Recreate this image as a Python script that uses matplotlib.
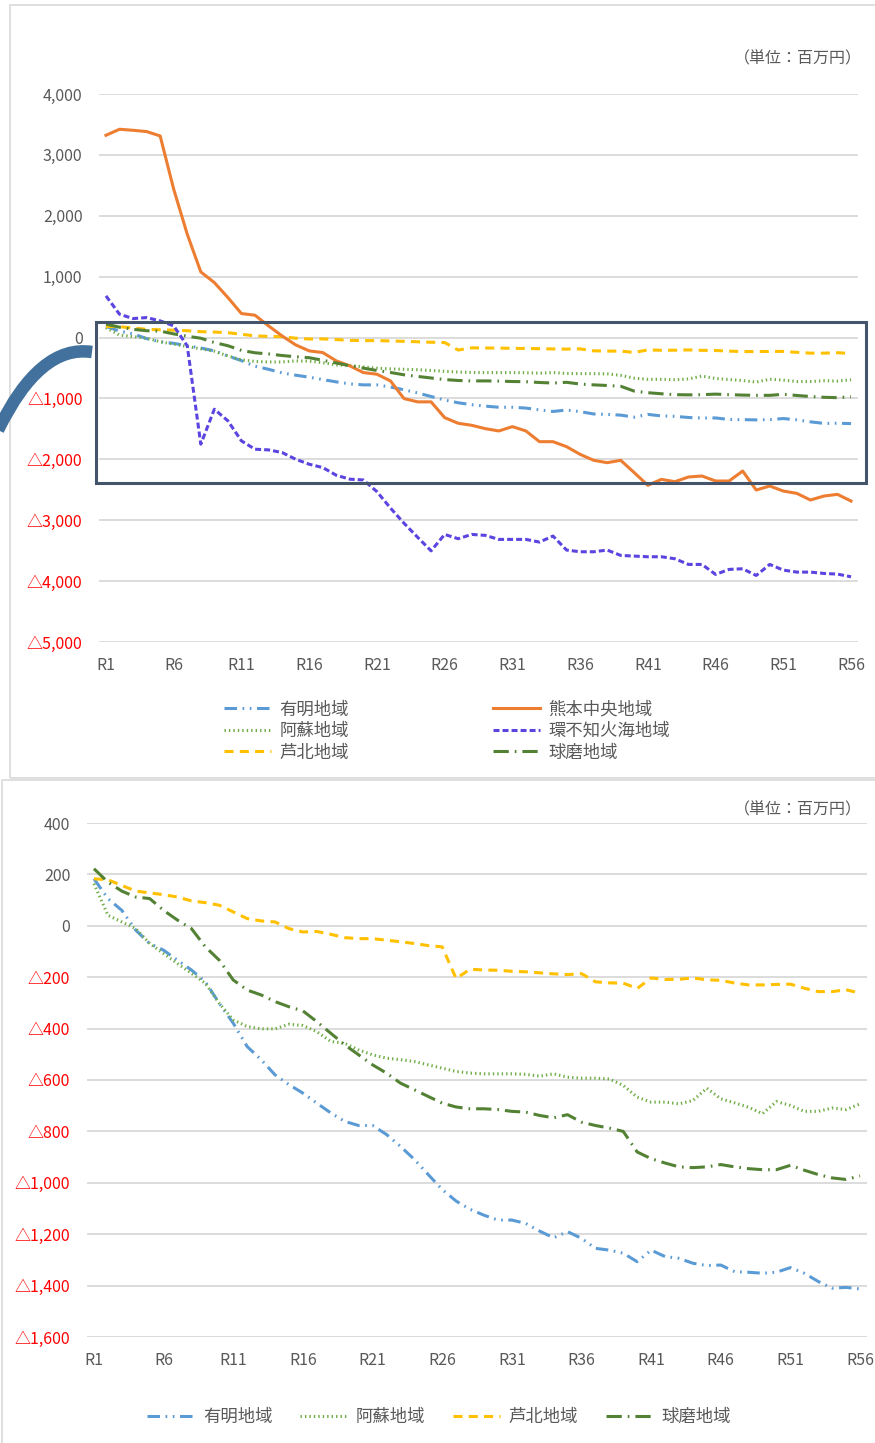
import matplotlib
matplotlib.use('Agg')
import matplotlib.pyplot as plt
from matplotlib.patches import Rectangle, PathPatch
from matplotlib.path import Path

plt.rcParams['font.family'] = ['Noto Sans CJK JP', 'DejaVu Sans']
plt.rcParams['lines.scale_dashes'] = False

# data (単位：百万円), R1..R56
years = list(range(1, 57))

ariake = [183, 106, 60, -17, -69, -95, -134, -172, -218, -302,
          -379, -470, -521, -580, -618, -651, -690, -728, -761, -777,
          -777, -812, -858, -909, -968, -1026, -1071, -1103, -1126, -1145,
          -1145, -1158, -1188, -1214, -1190, -1216, -1255, -1262, -1274, -1307,
          -1262, -1287, -1294, -1313, -1322, -1320, -1346, -1348, -1352, -1348,
          -1330, -1352, -1384, -1410, -1407, -1413]

aso = [164, 41, 15, -11, -69, -108, -147, -185, -224, -302,
       -366, -392, -401, -401, -383, -388, -412, -450, -457, -483,
       -502, -515, -521, -528, -541, -554, -567, -573, -576, -576,
       -576, -578, -585, -576, -589, -593, -593, -596, -621, -667,
       -686, -686, -693, -680, -632, -673, -689, -706, -731, -684,
       -699, -722, -722, -709, -715, -693]

ashikita = [183, 179, 157, 135, 128, 121, 112, 97, 90, 80,
            54, 28, 19, 15, -11, -24, -22, -33, -46, -50,
            -50, -56, -62, -69, -77, -82, -205, -169, -172, -173,
            -177, -179, -183, -187, -190, -186, -218, -222, -223, -244,
            -203, -209, -208, -203, -210, -212, -223, -230, -230, -228,
            -227, -243, -256, -256, -249, -262]

kuma = [222, 170, 135, 112, 106, 60, 22, -11, -82, -134,
        -211, -250, -269, -295, -315, -331, -373, -418, -463, -502,
        -541, -573, -612, -638, -664, -690, -705, -712, -712, -715,
        -722, -725, -738, -747, -735, -764, -777, -787, -800, -880,
        -906, -923, -938, -941, -938, -929, -938, -945, -949, -949,
        -932, -951, -968, -981, -987, -973]

kumamoto = [3322, 3421, 3404, 3383, 3311, 2436, 1697, 1078, 903, 657,
            394, 367, 192, 27, -120, -219, -246, -383, -465, -575,
            -602, -712, -1002, -1056, -1056, -1315, -1408, -1441, -1496, -1534,
            -1463, -1534, -1710, -1710, -1792, -1918, -2016, -2055, -2016, -2219,
            -2427, -2329, -2367, -2290, -2274, -2356, -2356, -2192, -2504, -2438,
            -2521, -2559, -2668, -2603, -2575, -2685]

shiranui = [684, 383, 312, 328, 274, 192, -137, -1751, -1177, -1368,
            -1697, -1834, -1845, -1888, -1998, -2080, -2135, -2261, -2326, -2339,
            -2530, -2800, -3049, -3279, -3503, -3233, -3304, -3233, -3249, -3315,
            -3315, -3315, -3359, -3260, -3490, -3518, -3518, -3490, -3578, -3589,
            -3600, -3600, -3633, -3726, -3726, -3890, -3808, -3797, -3907, -3726,
            -3819, -3852, -3852, -3874, -3885, -3929]

names = ['有明地域', '阿蘇地域', '芦北地域', '熊本中央地域', '環不知火海地域', '球磨地域']
xtick_years = [1, 6, 11, 16, 21, 26, 31, 36, 41, 46, 51, 56]
top_ticks = [4000, 3000, 2000, 1000, 0, -1000, -2000, -3000, -4000, -5000]
bottom_ticks = [400, 200, 0, -200, -400, -600, -800, -1000, -1200, -1400, -1600]

W, H = 875, 1443
GRAY = '#595959'

# colour, dash pattern (points), cap style
styles = {
    '有明地域': ('#5B9BD5', (9, 4, 1.2, 4, 1.2, 4), 'butt'),
    '阿蘇地域': ('#70AD47', (1.0, 2.2), 'butt'),
    '芦北地域': ('#FFC000', (6.5, 4.5), 'butt'),
    '熊本中央地域': ('#ED7D31', None, 'butt'),
    '環不知火海地域': ('#5B45E0', (4.3, 2.2), 'butt'),
    '球磨地域': ('#548235', (11, 4.3, 1.2, 4.3), 'butt'),
}


def fx(x):
    return x / W


def fy(y):
    return 1 - y / H


def tick_text(v):
    if v < 0:
        return '△{:,}'.format(-v)
    return '{:,}'.format(v)


def draw(ax, series, yticks):
    for name, vals in series:
        color, dashes, cap = styles[name]
        if dashes is None:
            ax.plot(years, vals, color=color, lw=2.2, label=name)
        else:
            ax.plot(years, vals, color=color, lw=2.2, dashes=dashes,
                    dash_capstyle=cap, label=name)
    ax.set_xlim(0.5, 56.5)
    ax.set_ylim(yticks[-1], yticks[0])
    ax.set_yticks(yticks)
    ax.set_yticklabels([tick_text(v) for v in yticks])
    for lab, v in zip(ax.get_yticklabels(), yticks):
        lab.set_color('#FF0000' if v < 0 else GRAY)
    ax.set_xticks(xtick_years)
    ax.set_xticklabels(['R%d' % y for y in xtick_years], color=GRAY)
    ax.tick_params(length=0, labelsize=11.5)
    ax.tick_params(axis='y', pad=12)
    ax.tick_params(axis='x', pad=11)
    ax.grid(axis='y', color='#D9D9D9', lw=1.3)
    ax.set_axisbelow(True)
    for s in ax.spines.values():
        s.set_visible(False)


def main():
    fig = plt.figure(figsize=(W / 100, H / 100), dpi=100)

    # panel frames
    fig.add_artist(Rectangle((fx(10), fy(778)), (W + 10) / W, (778 - 5) / H,
                             fill=False, edgecolor='#D9D9D9', lw=1.2,
                             transform=fig.transFigure))
    fig.add_artist(Rectangle((fx(2), fy(1460)), (W + 10) / W, (1460 - 780) / H,
                             fill=False, edgecolor='#D9D9D9', lw=1.2,
                             transform=fig.transFigure))

    # top chart: all six regions
    ax1 = fig.add_axes([fx(99.2), fy(642), (857.8 - 99.2) / W, (642 - 94) / H])
    draw(ax1, [('有明地域', ariake), ('阿蘇地域', aso), ('芦北地域', ashikita),
               ('熊本中央地域', kumamoto), ('環不知火海地域', shiranui),
               ('球磨地域', kuma)], top_ticks)
    fig.text(fx(862), fy(59), '（単位：百万円）', ha='right', va='center',
             fontsize=11.5, color=GRAY)
    fig.legend(*ax1.get_legend_handles_labels(), loc='center',
               bbox_to_anchor=(fx(447), fy(731)), ncol=2, frameon=False,
               fontsize=12.5, labelcolor=GRAY, handlelength=2.7,
               handletextpad=0.5, columnspacing=8.3, labelspacing=0.2,
               borderpad=0)

    # highlight box and curved connector
    fig.add_artist(Rectangle((fx(96), fy(483)), (866 - 96) / W, (483 - 322) / H,
                             fill=False, edgecolor='#44546A', lw=2.2,
                             transform=fig.transFigure))
    verts = [(fx(-2), fy(430)), (fx(40), fy(344)), (fx(92), fy(352))]
    arc = Path(verts, [Path.MOVETO, Path.CURVE3, Path.CURVE3])
    fig.add_artist(PathPatch(arc, fill=False, edgecolor='#41719C', lw=9,
                             capstyle='butt', transform=fig.transFigure))

    # bottom chart: zoom on four regions
    ax2 = fig.add_axes([fx(87), fy(1337), (867 - 87) / W, (1337 - 823) / H])
    draw(ax2, [('有明地域', ariake), ('阿蘇地域', aso), ('芦北地域', ashikita),
               ('球磨地域', kuma)], bottom_ticks)
    fig.text(fx(862), fy(810), '（単位：百万円）', ha='right', va='center',
             fontsize=11.5, color=GRAY)
    fig.legend(*ax2.get_legend_handles_labels(), loc='center',
               bbox_to_anchor=(fx(439), fy(1417)), ncol=4, frameon=False,
               fontsize=12.5, labelcolor=GRAY, handlelength=2.7,
               handletextpad=0.5, columnspacing=1.6, borderpad=0)

    fig.savefig('out.png', dpi=100)


main()
